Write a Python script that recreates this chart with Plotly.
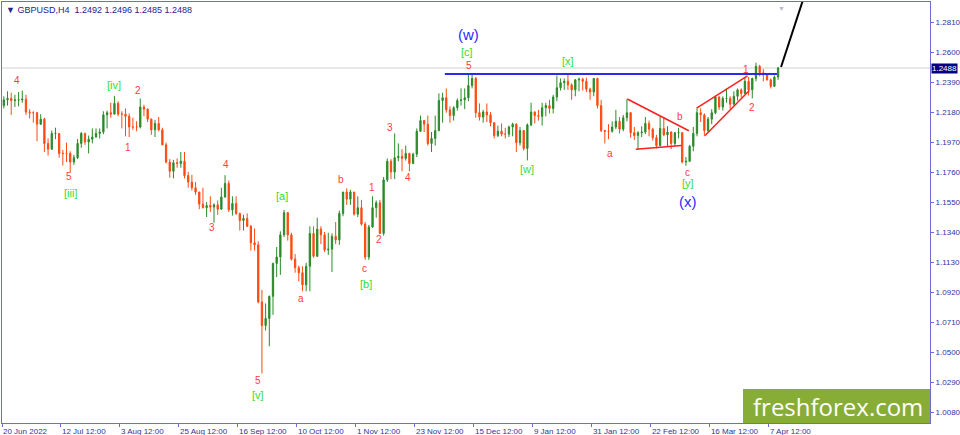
import plotly.graph_objects as go

# GBPUSD, one bar per trading day (Jun 20 2022 .. Apr 12 2023, Dec 26 / Jan 2 left out)
bar_open = [
    1.2225, 1.2265, 1.2275, 1.2260, 1.2265,
    1.2265, 1.2270, 1.2180, 1.2175, 1.2175,
    1.2095, 1.2130, 1.1960, 1.1920, 1.2030,
    1.2030, 1.1890, 1.1890, 1.1890, 1.1830,
    1.1860, 1.1960, 1.2030, 1.1970, 1.1990,
    1.2005, 1.2030, 1.2040, 1.2160, 1.2175,
    1.2165, 1.2240, 1.2165, 1.2165, 1.2150,
    1.2075, 1.2075, 1.2075, 1.2215, 1.2200,
    1.2130, 1.2055, 1.2100, 1.2055, 1.1950,
    1.1830, 1.1765, 1.1825, 1.1820, 1.1835,
    1.1735, 1.1690, 1.1650, 1.1620, 1.1535,
    1.1510, 1.1525, 1.1515, 1.1530, 1.1500,
    1.1585, 1.1680, 1.1495, 1.1540, 1.1470,
    1.1420, 1.1435, 1.1380, 1.1265, 1.1250,
    1.0850, 1.0685, 1.0735, 1.0890, 1.1120,
    1.1165, 1.1320, 1.1475, 1.1320, 1.1150,
    1.1090, 1.1055, 1.0970, 1.1100, 1.1330,
    1.1170, 1.1360, 1.1320, 1.1215, 1.1220,
    1.1310, 1.1285, 1.1470, 1.1620, 1.1570,
    1.1620, 1.1465, 1.1510, 1.1395, 1.1165,
    1.1375, 1.1510, 1.1545, 1.1330, 1.1705,
    1.1835, 1.1760, 1.1860, 1.1870, 1.1855,
    1.1890, 1.1820, 1.1885, 1.2045, 1.2120,
    1.2095, 1.1960, 1.1995, 1.2050, 1.2260,
    1.2280, 1.2195, 1.2155, 1.2210, 1.2260,
    1.2265, 1.2280, 1.2365, 1.2415, 1.2175,
    1.2145, 1.2180, 1.2160, 1.2105, 1.2015,
    1.2045, 1.2025, 1.2025, 1.2075,
    1.2095, 1.1965, 1.2050, 1.1925,
    1.2090, 1.2180, 1.2155, 1.2150, 1.2210,
    1.2225, 1.2205, 1.2285, 1.2350, 1.2385,
    1.2395, 1.2370, 1.2335, 1.2405, 1.2410,
    1.2395, 1.2340, 1.2320, 1.2415, 1.2225,
    1.2050, 1.2045, 1.2045, 1.2075, 1.2115,
    1.2060, 1.2140, 1.2175, 1.2035, 1.2015,
    1.2035, 1.2040, 1.2100, 1.2060, 1.2000,
    1.1945, 1.2065, 1.2020, 1.2040, 1.1960,
    1.2035, 1.2035, 1.1830, 1.1835, 1.1940,
    1.2030, 1.2175, 1.2160, 1.2050, 1.2130,
    1.2175, 1.2285, 1.2215, 1.2275, 1.2275,
    1.2235, 1.2290, 1.2335, 1.2310, 1.2395,
    1.2335, 1.2415, 1.2500, 1.2455, 1.2440,
    1.2405, 1.2360, 1.2425,
]
bar_high = [
    1.2290, 1.2325, 1.2315, 1.2300, 1.2320,
    1.2330, 1.2300, 1.2200, 1.2185, 1.2180,
    1.2165, 1.2140, 1.1995, 1.2050, 1.2070,
    1.2030, 1.1915, 1.1965, 1.1905, 1.1880,
    1.1990, 1.2040, 1.2035, 1.2015, 1.2065,
    1.2065, 1.2065, 1.2185, 1.2190, 1.2245,
    1.2293, 1.2255, 1.2185, 1.2205, 1.2170,
    1.2140, 1.2115, 1.2275, 1.2230, 1.2205,
    1.2135, 1.2125, 1.2145, 1.2070, 1.1965,
    1.1850, 1.1845, 1.1855, 1.1900, 1.1900,
    1.1760, 1.1740, 1.1690, 1.1620, 1.1650,
    1.1550, 1.1590, 1.1540, 1.1560, 1.1650,
    1.1738, 1.1700, 1.1590, 1.1590, 1.1475,
    1.1460, 1.1470, 1.1390, 1.1365, 1.1275,
    1.0935, 1.0840, 1.0895, 1.1125, 1.1235,
    1.1345, 1.1495, 1.1480, 1.1335, 1.1185,
    1.1105, 1.1100, 1.1125, 1.1380, 1.1380,
    1.1440, 1.1380, 1.1340, 1.1335, 1.1330,
    1.1410, 1.1490, 1.1620, 1.1645, 1.1635,
    1.1620, 1.1590, 1.1565, 1.1410, 1.1390,
    1.1590, 1.1560, 1.1565, 1.1725, 1.1855,
    1.1850, 1.2030, 1.1960, 1.1920, 1.1945,
    1.1895, 1.1895, 1.2065, 1.2155, 1.2125,
    1.2155, 1.2040, 1.2155, 1.2310, 1.2315,
    1.2345, 1.2220, 1.2220, 1.2275, 1.2345,
    1.2345, 1.2443, 1.2446, 1.2425, 1.2240,
    1.2195, 1.2240, 1.2180, 1.2110, 1.2085,
    1.2100, 1.2070, 1.2085, 1.2105,
    1.2100, 1.2075, 1.2055, 1.2100,
    1.2245, 1.2185, 1.2195, 1.2245, 1.2245,
    1.2265, 1.2300, 1.2435, 1.2415, 1.2415,
    1.2448, 1.2380, 1.2410, 1.2420, 1.2420,
    1.2420, 1.2350, 1.2418, 1.2420, 1.2265,
    1.2055, 1.2095, 1.2115, 1.2195, 1.2145,
    1.2160, 1.2270, 1.2180, 1.2075, 1.2045,
    1.2080, 1.2145, 1.2120, 1.2070, 1.2020,
    1.2150, 1.2145, 1.2080, 1.2045, 1.2040,
    1.2070, 1.2040, 1.1865, 1.1950, 1.2075,
    1.2205, 1.2205, 1.2170, 1.2145, 1.2200,
    1.2295, 1.2290, 1.2290, 1.2343, 1.2290,
    1.2325, 1.2345, 1.2345, 1.2425, 1.2425,
    1.2420, 1.2525, 1.2510, 1.2480, 1.2445,
    1.2415, 1.2435, 1.2496,
]
bar_low = [
    1.2205, 1.2225, 1.2160, 1.2215, 1.2220,
    1.2245, 1.2160, 1.2135, 1.2105, 1.1975,
    1.2090, 1.1900, 1.1875, 1.1915, 1.1990,
    1.1860, 1.1805, 1.1830, 1.1760, 1.1810,
    1.1850, 1.1930, 1.1950, 1.1890, 1.1960,
    1.2000, 1.1995, 1.2025, 1.2065, 1.2140,
    1.2165, 1.2150, 1.2065, 1.2010, 1.2005,
    1.2055, 1.2045, 1.2065, 1.2150, 1.2110,
    1.2020, 1.2005, 1.2045, 1.1950, 1.1820,
    1.1720, 1.1715, 1.1790, 1.1790, 1.1715,
    1.1650, 1.1630, 1.1600, 1.1500, 1.1505,
    1.1445, 1.1480, 1.1405, 1.1460, 1.1495,
    1.1580, 1.1480, 1.1455, 1.1460, 1.1350,
    1.1350, 1.1375, 1.1210, 1.1210, 1.0840,
    1.0350, 1.0650, 1.0540, 1.0760, 1.1025,
    1.1040, 1.1305, 1.1280, 1.1140, 1.1055,
    1.0995, 1.0925, 1.0925, 1.0925, 1.1160,
    1.1165, 1.1255, 1.1200, 1.1180, 1.1060,
    1.1255, 1.1250, 1.1450, 1.1530, 1.1530,
    1.1455, 1.1445, 1.1385, 1.1145, 1.1145,
    1.1370, 1.1440, 1.1325, 1.1315, 1.1690,
    1.1710, 1.1710, 1.1835, 1.1765, 1.1840,
    1.1765, 1.1815, 1.1865, 1.2040, 1.2040,
    1.1945, 1.1900, 1.1945, 1.2045, 1.2105,
    1.2175, 1.2105, 1.2120, 1.2190, 1.2225,
    1.2200, 1.2255, 1.2345, 1.2140, 1.2120,
    1.2105, 1.2110, 1.2080, 1.1995, 1.2005,
    1.2010, 1.1995, 1.2005, 1.2010,
    1.1900, 1.1945, 1.1910, 1.1841,
    1.2080, 1.2100, 1.2120, 1.2085, 1.2150,
    1.2170, 1.2170, 1.2255, 1.2330, 1.2335,
    1.2335, 1.2265, 1.2290, 1.2325, 1.2330,
    1.2320, 1.2265, 1.2290, 1.2205, 1.2040,
    1.1960, 1.1990, 1.2035, 1.2060, 1.2030,
    1.2045, 1.2115, 1.2000, 1.1985, 1.1915,
    1.2005, 1.2025, 1.2010, 1.1980, 1.1925,
    1.1940, 1.2010, 1.1940, 1.1920, 1.1940,
    1.1995, 1.1820, 1.1803, 1.1830, 1.1905,
    1.2010, 1.2110, 1.2010, 1.2040, 1.2095,
    1.2165, 1.2195, 1.2190, 1.2245, 1.2200,
    1.2225, 1.2260, 1.2280, 1.2305, 1.2295,
    1.2275, 1.2395, 1.2430, 1.2395, 1.2400,
    1.2345, 1.2355, 1.2405,
]
bar_close = [
    1.2265, 1.2275, 1.2260, 1.2265, 1.2265,
    1.2270, 1.2180, 1.2175, 1.2175, 1.2095,
    1.2130, 1.1960, 1.1920, 1.2030, 1.2030,
    1.1890, 1.1890, 1.1890, 1.1830, 1.1860,
    1.1960, 1.2030, 1.1970, 1.1990, 1.2005,
    1.2030, 1.2040, 1.2160, 1.2175, 1.2165,
    1.2240, 1.2165, 1.2165, 1.2150, 1.2075,
    1.2075, 1.2075, 1.2215, 1.2200, 1.2130,
    1.2055, 1.2100, 1.2055, 1.1950, 1.1830,
    1.1765, 1.1825, 1.1820, 1.1835, 1.1735,
    1.1690, 1.1650, 1.1620, 1.1535, 1.1510,
    1.1525, 1.1515, 1.1530, 1.1500, 1.1585,
    1.1680, 1.1495, 1.1540, 1.1470, 1.1420,
    1.1435, 1.1380, 1.1265, 1.1250, 1.0850,
    1.0685, 1.0735, 1.0890, 1.1120, 1.1165,
    1.1320, 1.1475, 1.1320, 1.1150, 1.1090,
    1.1055, 1.0970, 1.1100, 1.1330, 1.1170,
    1.1360, 1.1320, 1.1215, 1.1220, 1.1310,
    1.1285, 1.1470, 1.1620, 1.1570, 1.1620,
    1.1465, 1.1510, 1.1395, 1.1165, 1.1375,
    1.1510, 1.1545, 1.1330, 1.1705, 1.1835,
    1.1760, 1.1860, 1.1870, 1.1855, 1.1890,
    1.1820, 1.1885, 1.2045, 1.2120, 1.2095,
    1.1960, 1.1995, 1.2050, 1.2260, 1.2280,
    1.2195, 1.2155, 1.2210, 1.2260, 1.2265,
    1.2280, 1.2365, 1.2415, 1.2175, 1.2145,
    1.2180, 1.2160, 1.2105, 1.2015, 1.2045,
    1.2025, 1.2025, 1.2075, 1.2095,
    1.1965, 1.2050, 1.1925, 1.2090,
    1.2180, 1.2155, 1.2150, 1.2210, 1.2225,
    1.2205, 1.2285, 1.2350, 1.2385, 1.2395,
    1.2370, 1.2335, 1.2405, 1.2410, 1.2395,
    1.2340, 1.2320, 1.2415, 1.2225, 1.2050,
    1.2045, 1.2045, 1.2075, 1.2115, 1.2060,
    1.2140, 1.2175, 1.2035, 1.2015, 1.2035,
    1.2040, 1.2100, 1.2060, 1.2000, 1.1945,
    1.2065, 1.2020, 1.2040, 1.1960, 1.2035,
    1.2035, 1.1830, 1.1835, 1.1940, 1.2030,
    1.2175, 1.2160, 1.2050, 1.2130, 1.2175,
    1.2285, 1.2215, 1.2275, 1.2275, 1.2235,
    1.2290, 1.2335, 1.2310, 1.2395, 1.2335,
    1.2415, 1.2500, 1.2455, 1.2440, 1.2405,
    1.2360, 1.2425, 1.2488,
]

time_tick_pos = [-0.5, 15.5, 31.5, 47.5, 63.5, 79.5, 95.5, 111.5, 127.5, 143.5, 159.5, 175.5, 191.5, 207.5]
time_tick_text = ["20 Jun 2022", "12 Jul 12:00", "3 Aug 12:00", "25 Aug 12:00", "16 Sep 12:00",
                  "10 Oct 12:00", "1 Nov 12:00", "23 Nov 12:00", "15 Dec 12:00", "9 Jan 12:00",
                  "31 Jan 12:00", "22 Feb 12:00", "16 Mar 12:00", "7 Apr 12:00"]
price_ticks = [1.0080, 1.0290, 1.0500, 1.0710, 1.0920, 1.1130, 1.1340,
               1.1550, 1.1760, 1.1970, 1.2180, 1.2390, 1.2600, 1.2810]

last_price = 1.2488
level_x = [119.6, 209.7]          # blue line through the (w) top
level_y = [1.2446, 1.2446]
forecast_x = [210.8, 217.1]       # black projection
forecast_y = [1.2495, 1.2992]
red_segments = [                  # triangle + wedge
    ([169.1, 185.8], [1.2271, 1.2049]),
    ([171.4, 183.8], [1.1920, 1.1946]),
    ([187.9, 201.7], [1.2207, 1.2433]),
    ([190.2, 202.2], [1.2015, 1.2330]),
]

# wave labels (text, bar, price)
minor_labels = [
    ("4", 3.6, 1.2404), ("5", 17.7, 1.1732), ("1", 33.7, 1.1935), ("2", 36.4, 1.2334),
    ("4", 60.3, 1.1816), ("3", 56.5, 1.1375), ("5", 68.9, 1.0304), ("a", 80.6, 1.0878),
    ("b", 91.4, 1.1711), ("c", 97.7, 1.1088), ("1", 99.8, 1.1655), ("2", 101.7, 1.1291),
    ("3", 104.7, 1.2075), ("4", 109.6, 1.1725), ("5", 126.2, 1.2509), ("a", 164.4, 1.1893),
    ("b", 183.4, 1.2152), ("c", 185.3, 1.1760), ("1", 201.3, 1.2481), ("2", 202.9, 1.2215),
]
mid_labels = [
    ("[iii]", 18.2, 1.1613), ("[iv]", 29.9, 1.2369), ("[v]", 68.9, 1.0199),
    ("[a]", 75.4, 1.1592), ("[b]", 98.2, 1.0976), ("[c]", 125.6, 1.2600),
    ("[w]", 141.9, 1.1781), ("[x]", 153.0, 1.2537), ("[y]", 185.5, 1.1683),
]
major_labels = [("(w)", 125.9, 1.2726), ("(x)", 185.5, 1.1557)]

UP = "#2a8a2a"
DOWN = "#ff4a12"
AXIS = "#6c6cd4"
TXT = "#33339a"
FONT = "Liberation Sans"

bars = list(range(len(bar_close)))

fig = go.Figure()
fig.add_trace(go.Candlestick(
    x=bars, open=bar_open, high=bar_high, low=bar_low, close=bar_close,
    increasing=dict(line=dict(color=UP, width=1), fillcolor=UP),
    decreasing=dict(line=dict(color=DOWN, width=1), fillcolor=DOWN),
    whiskerwidth=0, showlegend=False,
))
fig.add_trace(go.Scatter(x=level_x, y=level_y, mode="lines",
                         line=dict(color="#2b2bf0", width=2), showlegend=False))
for sx, sy in red_segments:
    fig.add_trace(go.Scatter(x=sx, y=sy, mode="lines",
                             line=dict(color="#ff1f1f", width=1.5), showlegend=False))
fig.add_trace(go.Scatter(x=forecast_x, y=forecast_y, mode="lines",
                         line=dict(color="black", width=2), showlegend=False))

# bid line
fig.add_shape(type="line", xref="paper", x0=0, x1=1, y0=last_price, y1=last_price,
              line=dict(color="#d0d0d0", width=1), layer="below")

# logo
fig.add_shape(type="rect", xref="paper", yref="paper", x0=0.7985, x1=1.0, y0=0, y1=0.081,
              fillcolor="#88ad37", line_width=0, layer="above")
fig.add_annotation(xref="paper", yref="paper", x=0.901, y=0.040, xanchor="center", yanchor="middle",
                   text="freshforex.com", showarrow=False,
                   font=dict(family="Open Sans", size=24, color="white"))

for txt, bx, by in minor_labels:
    fig.add_annotation(x=bx, y=by, text=txt, showarrow=False,
                       font=dict(family=FONT, size=10, color="#ff3b3b"))
for txt, bx, by in mid_labels:
    fig.add_annotation(x=bx, y=by, text=txt, showarrow=False,
                       font=dict(family=FONT, size=11, color="#30e030"))
for txt, bx, by in major_labels:
    fig.add_annotation(x=bx, y=by, text=txt, showarrow=False,
                       font=dict(family=FONT, size=15, color="#2b2bff"))

# header + price tag
fig.add_annotation(xref="paper", yref="paper", x=0.002, y=1, xanchor="left", yanchor="top",
                   text="▼ GBPUSD,H4\u00a0\u00a01.2492 1.2496 1.2485 1.2488", showarrow=False,
                   font=dict(family=FONT, size=9, color="#24248c"), yshift=-1)
fig.add_annotation(xref="paper", x=1, xanchor="left", xshift=1, y=last_price, text="1.2488",
                   showarrow=False, bgcolor="#000080", borderpad=0,
                   font=dict(family=FONT, size=8, color="white"))
fig.add_annotation(x=forecast_x[0], xref="x", yref="paper", y=1, yanchor="top", text="▼",
                   showarrow=False, font=dict(size=7, color="#b8b8c8"))

fig.update_layout(
    width=960, height=435,
    margin=dict(l=2, r=30, t=2, b=12, autoexpand=False),
    paper_bgcolor="white", plot_bgcolor="white",
    showlegend=False, hovermode=False,
    boxgap=0.5,   # slimmer candle bodies
)
fig.update_xaxes(range=[-0.5, 251.2], rangeslider=dict(visible=False),
                 tickvals=time_tick_pos, ticktext=time_tick_text,
                 ticks="outside", ticklen=3, tickcolor=AXIS, ticklabelposition="outside right",
                 showline=True, linecolor=AXIS, mirror=True, showgrid=False, zeroline=False,
                 tickfont=dict(family=FONT, size=8, color=TXT), automargin=False)
fig.update_yaxes(range=[1.0003, 1.2950], side="right",
                 tickvals=price_ticks, ticktext=[f"{v:.4f}" for v in price_ticks],
                 ticks="outside", ticklen=3, tickcolor=AXIS,
                 showline=True, linecolor=AXIS, mirror=True, showgrid=False, zeroline=False,
                 tickfont=dict(family=FONT, size=8, color=TXT), automargin=False)

# page body has an 8px default margin, drop it so the chart sits at 0,0
fig.write_html("out.html", config={"displayModeBar": False},
               post_script="document.body.style.margin='0';")
